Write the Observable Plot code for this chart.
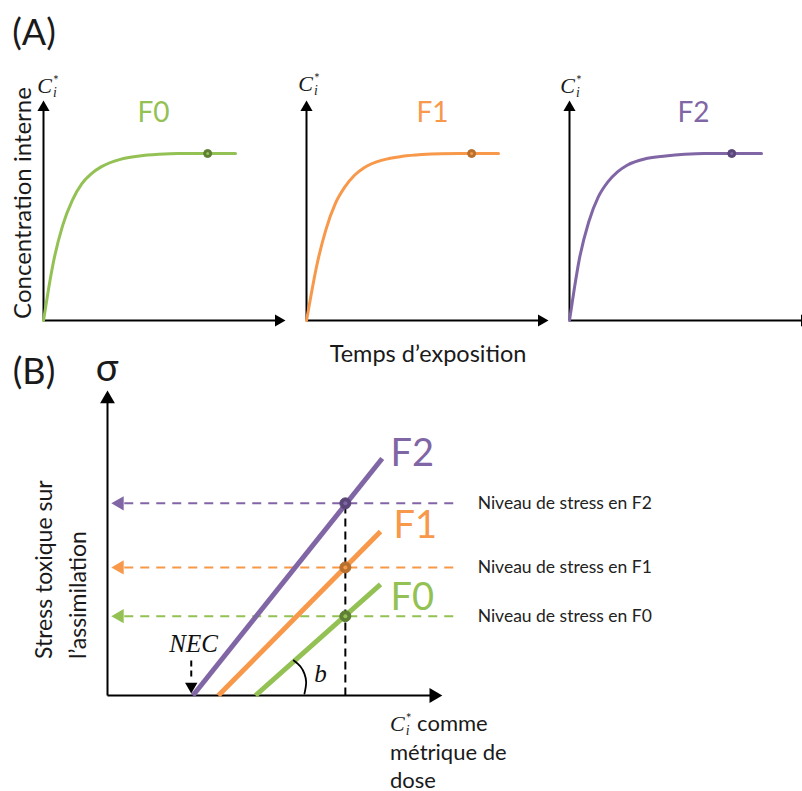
<!DOCTYPE html>
<html>
<head>
<meta charset="utf-8">
<script src="https://cdn.jsdelivr.net/npm/d3@7"></script>
<script src="https://cdn.jsdelivr.net/npm/@observablehq/plot@0.6"></script>
<style>
  html, body { margin: 0; padding: 0; background: #fff; overflow: hidden; }
  #root { position: relative; width: 802px; height: 791px; overflow: hidden; font-family: Lato, "Open Sans", sans-serif; color: #1a1a1a; }
  .abs { position: absolute; line-height: 1; white-space: nowrap; }
  .math { font-family: "Liberation Serif", "DejaVu Serif", serif; font-style: italic; }
  .ss { display: inline-block; vertical-align: -0.3em; font-size: 0.62em; line-height: 0.85; text-align: left; margin-left: 1px; }
  .ss span { display: block; }
  .ss .star { font-style: normal; }
</style>
</head>
<body>
<div id="root"></div>
<script>
// ---------------- Data ----------------
// Panel A: internal concentration kinetics (exposure time, arbitrary units)
const generations = ["F0", "F1", "F2"];
const colors = ["#93c154", "#f7984a", "#8166a6"];
const darkColors = ["#5f7f34", "#b8702e", "#5a4678"];
const timeA = [0, 0.25, 0.5, 1, 1.5, 2, 2.5, 3, 4, 5, 6, 7, 8, 9, 10];
const concF0 = [0, 0.18, 0.34, 0.57, 0.72, 0.82, 0.88, 0.92, 0.965, 0.985, 0.995, 1, 1, 1, 1];
const concF1 = [0, 0.16, 0.31, 0.54, 0.70, 0.80, 0.87, 0.915, 0.962, 0.983, 0.994, 0.999, 1, 1, 1];
const concF2 = [0, 0.19, 0.36, 0.59, 0.74, 0.83, 0.89, 0.93, 0.97, 0.985, 0.995, 1, 1, 1, 1];
const concs = [concF0, concF1, concF2];
const dotTime = [8.55, 8.6, 8.45];
const labelTime = [5.73, 6.56, 6.46];
const labelConc = 1.24;
const axisA = { tMax: 12.24, cMax: 1.275 };

// Panel B: stress vs internal concentration (dose metric)
const doseStart = [4.42, 3.31, 2.55];   // NEC per generation
const doseEnd = [8.15, 8.15, 8.2];
const stressEnd = [3.64, 5.38, 7.77];
const doseMetric = 7.1;
const stressLevel = [2.6, 4.2, 6.3];
const stressLabels = ["Niveau de stress en F0", "Niveau de stress en F1", "Niveau de stress en F2"];
const genLabelDose = [8.45, 8.54, 8.45];
const genLabelStress = [3.21, 5.57, 7.93];
const arcDose = [5.56, 5.76, 5.88, 5.93, 5.88];
const arcStress = [1.15, 0.95, 0.71, 0.44, 0.06];
const necArrow = { dose: 2.5, top: 1.15, bottom: 0.5, head: 0.3 };
const necLabel = { dose: 2.57, stress: 1.7 };
const bLabel = { dose: 6.36, stress: 0.72 };
const axisB = { doseMax: 9.74, stressMax: 9.72, dashStart: 0.5, dashEnd: 10.5, headDose: 0.36, labelDose: 11.05 };

const root = document.getElementById("root");
const svgStyle = { background: "transparent", maxWidth: "none", overflow: "visible" };

function place(el, left, top) {
  el.style.position = "absolute";
  el.style.left = left + "px";
  el.style.top = top + "px";
  root.appendChild(el);
}

// ---------------- Panel A ----------------
const panelLeft = [35, 298, 561];
generations.forEach((g, i) => {
  const data = timeA.map((t, j) => ({ t, c: concs[i][j] }));
  const chart = Plot.plot({
    width: 262, height: 270, margin: 0,
    style: svgStyle,
    x: { domain: [0, 13], range: [8, 257.6], axis: null },
    y: { domain: [0, 1.5], range: [260, 9.5], axis: null },
    marks: [
      Plot.link([{ x1: 0, y1: 0, x2: axisA.tMax, y2: 0 }], { x1: "x1", y1: "y1", x2: "x2", y2: "y2", stroke: "#000", strokeWidth: 2 }),
      Plot.link([{ x1: 0, y1: 0, x2: 0, y2: axisA.cMax }], { x1: "x1", y1: "y1", x2: "x2", y2: "y2", stroke: "#000", strokeWidth: 2 }),
      Plot.dot([{ x: axisA.tMax, y: 0 }], { x: "x", y: "y", symbol: "triangle", r: 4.5, fill: "#000", rotate: 90 }),
      Plot.dot([{ x: 0, y: axisA.cMax }], { x: "x", y: "y", symbol: "triangle", r: 4.5, fill: "#000", rotate: 0 }),
      Plot.line(data, { x: "t", y: "c", stroke: colors[i], strokeWidth: 3, curve: "monotone-x" }),
      Plot.dot([{ x: dotTime[i], y: 1 }], { x: "x", y: "y", r: 4, fill: darkColors[i], stroke: darkColors[i], strokeWidth: 1 }),
      Plot.dot([{ x: dotTime[i], y: 1 }], { x: "x", y: "y", r: 1.5, fill: colors[i] }),
      Plot.text([{ x: labelTime[i], y: labelConc, g }], { x: "x", y: "y", text: "g", fill: colors[i], fontSize: 28, fontFamily: "Lato, sans-serif" })
    ]
  });
  place(chart, panelLeft[i], 60);
});

// ---------------- Panel B ----------------
const linesB = generations.flatMap((g, i) => [
  { g, dose: doseStart[i], stress: 0 },
  { g, dose: doseEnd[i], stress: stressEnd[i] }
]);
const levels = generations.map((g, i) => ({ g, stress: stressLevel[i], label: stressLabels[i], color: colors[i], dark: darkColors[i] }));
const arc = arcDose.map((d, j) => ({ dose: d, stress: arcStress[j] }));

const chartB = Plot.plot({
  width: 802, height: 436, margin: 0,
  style: svgStyle,
  x: { domain: [0, 10], range: [107, 442], axis: null },
  y: { domain: [0, 10], range: [340, 35], axis: null },
  color: { domain: generations, range: colors },
  marks: [
    // horizontal stress-level dashes with left arrowheads
    Plot.link(levels, { x1: axisB.dashStart, x2: axisB.dashEnd, y1: "stress", y2: "stress", stroke: "color", strokeWidth: 2, strokeDasharray: "9,7" }),
    Plot.dot(levels, { x: axisB.headDose, y: "stress", symbol: "triangle", r: 5.3, fill: "color", rotate: -90 }),
    // vertical dashed at dose metric
    Plot.link([{ x: doseMetric, y1: 0, y2: stressLevel[2] }], { x1: "x", x2: "x", y1: "y1", y2: "y2", stroke: "#000", strokeWidth: 2, strokeDasharray: "8,5" }),
    // axes
    Plot.link([{ x1: 0, y1: 0, x2: axisB.doseMax, y2: 0 }], { x1: "x1", y1: "y1", x2: "x2", y2: "y2", stroke: "#000", strokeWidth: 2 }),
    Plot.link([{ x1: 0, y1: 0, x2: 0, y2: axisB.stressMax }], { x1: "x1", y1: "y1", x2: "x2", y2: "y2", stroke: "#000", strokeWidth: 2 }),
    Plot.dot([{ x: axisB.doseMax, y: 0 }], { x: "x", y: "y", symbol: "triangle", r: 5.5, fill: "#000", rotate: 90 }),
    Plot.dot([{ x: 0, y: axisB.stressMax }], { x: "x", y: "y", symbol: "triangle", r: 5.5, fill: "#000", rotate: 0 }),
    // stress lines
    Plot.line(linesB, { x: "dose", y: "stress", z: "g", stroke: "g", strokeWidth: 5, strokeLinecap: "butt" }),
    // angle arc b
    Plot.line(arc, { x: "dose", y: "stress", stroke: "#000", strokeWidth: 1.8, curve: "catmull-rom" }),
    // NEC dashed arrow
    Plot.link([{ x: necArrow.dose, y1: necArrow.top, y2: necArrow.bottom }], { x1: "x", x2: "x", y1: "y1", y2: "y2", stroke: "#000", strokeWidth: 2, strokeDasharray: "6,4" }),
    Plot.dot([{ x: necArrow.dose, y: necArrow.head }], { x: "x", y: "y", symbol: "triangle", r: 4.6, fill: "#000", rotate: 180 }),
    // intersection dots
    Plot.dot(levels, { x: doseMetric, y: "stress", r: 5.5, fill: "dark", stroke: "dark", strokeWidth: 1 }),
    Plot.dot(levels, { x: doseMetric, y: "stress", r: 2, fill: "color" }),
    // text
    Plot.text(levels, { x: axisB.labelDose, y: "stress", text: "label", textAnchor: "start", fill: "#222", fontSize: 17.5, fontFamily: "Lato, sans-serif" }),
    Plot.text(generations.map((g, i) => ({ g, dose: genLabelDose[i], stress: genLabelStress[i] })), { x: "dose", y: "stress", text: "g", fill: "g", textAnchor: "start", fontSize: 38, fontFamily: "Lato, sans-serif" }),
    Plot.text([{ x: necLabel.dose, y: necLabel.stress, t: "NEC" }], { x: "x", y: "y", text: "t", fontSize: 25, fontStyle: "italic", fontFamily: "Liberation Serif, serif", fill: "#111", style: "letter-spacing:2px" }),
    Plot.text([{ x: bLabel.dose, y: bLabel.stress, t: "b" }], { x: "x", y: "y", text: "t", fontSize: 25, fontStyle: "italic", fontFamily: "Liberation Serif, serif", fill: "#111" })
  ]
});
place(chartB, 0, 355);

// ---------------- HTML labels ----------------
function label(html, css) {
  const d = document.createElement("div");
  d.className = "abs";
  d.innerHTML = html;
  Object.assign(d.style, css);
  root.appendChild(d);
  return d;
}
const ciHTML = '<span class="math">C</span><span class="ss"><span class="star">*</span><span class="math">i</span></span>';

label("(A)", { left: "34px", top: "31px", fontSize: "36px", transform: "translate(-50%,-50%)" });
label("(B)", { left: "34px", top: "370px", fontSize: "36px", transform: "translate(-50%,-50%)" });
label("Concentration interne", { left: "22px", top: "203px", fontSize: "24px", transform: "translate(-50%,-50%) rotate(-90deg)" });
[[48, 86], [309, 84], [571, 86]].forEach(([x, y]) => {
  label(ciHTML, { left: x + "px", top: y + "px", fontSize: "22px", transform: "translate(-50%,-50%)" });
});
label("Temps d’exposition", { left: "428px", top: "354px", fontSize: "23.5px", transform: "translate(-50%,-50%)" });
label("σ", { left: "107px", top: "366px", fontSize: "38px", transform: "translate(-50%,-50%)" });
label("Stress toxique sur<br>l’assimilation", { left: "26px", top: "659px", fontSize: "23px", lineHeight: "34px", transform: "rotate(-90deg)", transformOrigin: "0 0" });
label(ciHTML + " comme<br>métrique de<br>dose", { left: "390px", top: "709px", fontSize: "22px", lineHeight: "28px" });
</script>
</body>
</html>
